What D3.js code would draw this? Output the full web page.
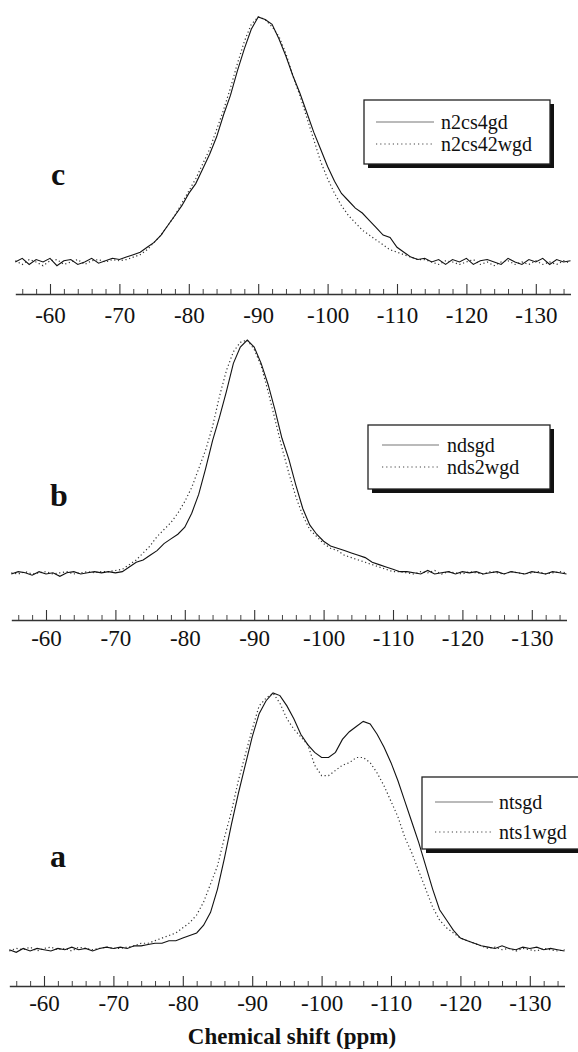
<!DOCTYPE html>
<html><head><meta charset="utf-8">
<script src="https://cdn.jsdelivr.net/npm/d3@7"></script>
<style>
html,body{margin:0;padding:0;background:#fff;}
svg{display:block;}
svg text{font-family:"Liberation Serif","DejaVu Serif",serif;}
</style></head>
<body>
<script>
// ---- data ----
const ppm = [-55,-56,-57,-58,-59,-60,-61,-62,-63,-64,-65,-66,-67,-68,-69,-70,
 -71,-72,-73,-74,-75,-76,-77,-78,-79,-80,
 -81,-82,-83,-84,-85,-86,-87,-88,-89,-90,
 -91,-92,-93,-94,-95,-96,-97,-98,-99,-100,
 -101,-102,-103,-104,-105,-106,-107,-108,-109,-110,
 -111,-112,-113,-114,-115,-116,-117,-118,-119,-120,
 -121,-122,-123,-124,-125,-126,-127,-128,-129,-130,
 -131,-132,-133,-134,-135];

const majorTicks = [-60,-70,-80,-90,-100,-110,-120,-130];
const minorTicks = [-56,-58,-62,-64,-66,-68,-72,-74,-76,-78,-82,-84,-86,-88,-92,-94,-96,-98,
 -102,-104,-106,-108,-112,-114,-116,-118,-122,-124,-126,-128,-132,-134];

const panelLetters = ["c","b","a"];
const legendNamesC = ["n2cs4gd","n2cs42wgd"];
const legendNamesB = ["ndsgd","nds2wgd"];
const legendNamesA = ["ntsgd","nts1wgd"];
const xTitle = "Chemical shift (ppm)";

// relative intensity (0 = baseline, 100 = peak)
const cSolid = [0,1.5,-1,1,0,1.5,-1.5,0.5,1,-1,0,1.5,-0.5,0.5,1.5,1,
 2,3,4,6,8,11,15,19,23,28,
 32,38,44,51,60,68,78,87,95,100,
 99,97,91,84,76,69,61,53,46,39,
 33,28,25,22,20,17,14,11,10,6,
 4,2,1,1.5,0,1,-1,1,0,1.5,
 -1,0.5,1,0,-1,1.5,0,-1,1,0,
 1.5,-1,1,0,0.5];
const cDot = [0.5,-1,1,0,-1.5,0.5,1,-1,0,1,-1,0.5,1,0,1,0.5,
 1,2,3,5,8,11,15,19,24,29,
 34,40,46,54,62,71,81,90,97,100,
 99,96,92,85,76,68,59,50,41,34,
 28,23,19,16,13,11,9,7,5,4,
 3,2,1,1,0,-1,0.5,0,-1,0,
 1,-1,0,-1.5,0,0.5,-1,0,-1,0.5,
 -1,0,-1,0.5,-0.5];
const bSolid = [0,1,0.5,-0.5,1,0,0.5,-1,0.5,1,0,0.5,1,0.5,1,0.5,
 1,3,5,6,8,10,13,15,17,20,
 26,34,45,57,67,78,90,97,100,97,
 90,81,70,58,49,38,28,21,17,14,
 12,11,10,9,8,7,5,4,3,2,
 1,1,0.5,0,1.5,0,0.5,1,0,1,
 0.5,1,0,0.5,1,0,1,0.5,0,1,
 0.5,0,1,0.5,0];
const bDot = [0.5,0,1,0,0.5,1,0,0.5,1,0,0.5,1,0.5,1,1,1.5,
 2,4,6,9,12,16,19,22,26,31,
 37,45,53,63,76,87,95,99,100,96,
 89,78,66,54,43,33,25,19,16,13,
 11,10,8,7,6,5,4,3,2,1,
 1,0.5,0,1,0.5,1.5,0,1,0.5,0,
 1,0.5,0,1,0.5,0,1,0.5,0,0.5,
 1,0,0.5,1,0.5];
const aSolid = [0.5,-0.5,1,0,1,0.5,0,1,0.5,1.5,0.5,1,0,1,1.5,1,
 1.5,1,2,2,2.5,3,3,4,4,5,
 6,7,10,15,24,36,49,61,72,83,
 92,97,100,99,95,90,84,80,77,75,
 75,77,82,85,87,89,88,84,79,73,
 66,58,50,42,33,24,16,12,8,5,
 4,3,2,1.5,1,2,1,0.5,1.5,1,
 1.5,0.5,1,0.5,0];
const aDot = [0,1,0.5,1.5,0,1,1.5,0.5,1,0,1.5,1,0.5,1,1.5,1,
 1,1.5,2,3,3,4,5,6,7,9,
 11,14,19,26,33,44,54,66,76,86,
 95,98,100,96,90,86,83,80,72,68,
 68,70,72,73,75,75,73,69,64,58,
 52,44,38,31,24,17,12,9,7,5,
 4,3,2,1,1.5,0.5,1,0,1,0.5,
 0,1,0.5,0,0.5];

// ---- layout ----
const W = 578, H = 1052;
const svg = d3.select("body").append("svg").attr("width", W).attr("height", H);
const serif = '"Liberation Serif","DejaVu Serif",serif';

const panels = [
  {letter: panelLetters[0], solid: cSolid, dot: cDot, names: legendNamesC,
   x60: 50, axisY: 294, labPad: 13, base: 262, peak: 17, letterX: 51, letterY: 185,
   leg: {x: 364, y: 100, w: 186, h: 64, r1: 122, r2: 144, l0: 376, l1: 434, tx: 441}},
  {letter: panelLetters[1], solid: bSolid, dot: bDot, names: legendNamesB,
   x60: 46, axisY: 620, labPad: 10, base: 574, peak: 340, letterX: 50, letterY: 506,
   leg: {x: 368, y: 425, w: 182, h: 64, r1: 445, r2: 467, l0: 382, l1: 439, tx: 447}},
  {letter: panelLetters[2], solid: aSolid, dot: aDot, names: legendNamesA,
   x60: 44, axisY: 986, labPad: 9, base: 951, peak: 693, letterX: 50, letterY: 867,
   leg: {x: 422, y: 777, w: 175, h: 72, r1: 802, r2: 832, l0: 435, l1: 493, tx: 499}}
];

const pxPerPpm = 6.94;

panels.forEach(p => {
  const g = svg.append("g");
  const x = d3.scaleLinear().domain([-55, -135])
    .range([p.x60 - 5 * pxPerPpm, p.x60 + 75 * pxPerPpm]);
  const y = d3.scaleLinear().domain([0, 100]).range([p.base, p.peak]);

  // axis
  const ax = g.append("g").attr("transform", `translate(0,${p.axisY})`)
    .call(d3.axisBottom(x).tickValues(majorTicks).tickSizeInner(-10).tickSizeOuter(0)
      .tickPadding(p.labPad).tickFormat(d => String(d)));
  ax.attr("font-family", null).attr("font-size", null);
  ax.select(".domain").attr("stroke", "#333").attr("stroke-width", 1.4);
  ax.selectAll(".tick line").attr("stroke", "#333").attr("stroke-width", 1.1);
  ax.selectAll(".tick text").style("font-family", serif).style("font-size", "23px").attr("fill", "#111");

  const axm = g.append("g").attr("transform", `translate(0,${p.axisY})`)
    .call(d3.axisBottom(x).tickValues(minorTicks).tickSizeInner(-5).tickSizeOuter(0).tickFormat(""));
  axm.select(".domain").remove();
  axm.selectAll(".tick line").attr("stroke", "#444").attr("stroke-width", 1);

  // lines
  const line = d3.line().x((d, i) => x(ppm[i])).y(d => y(d));
  g.append("path").datum(p.dot).attr("d", line).attr("fill", "none")
    .attr("stroke", "#333").attr("stroke-width", 1.2).attr("stroke-dasharray", "1.2,2.6");
  g.append("path").datum(p.solid).attr("d", line).attr("fill", "none")
    .attr("stroke", "#111").attr("stroke-width", 1.1);

  // panel letter
  g.append("text").attr("x", p.letterX).attr("y", p.letterY)
    .style("font-family", serif).style("font-weight", "bold").style("font-size", "32px")
    .attr("fill", "#111").text(p.letter);

  // legend
  const L = p.leg;
  g.append("rect").attr("x", L.x + 4).attr("y", L.y + 4).attr("width", L.w).attr("height", L.h)
    .attr("fill", "#111");
  g.append("rect").attr("x", L.x).attr("y", L.y).attr("width", L.w).attr("height", L.h)
    .attr("fill", "#fff").attr("stroke", "#222").attr("stroke-width", 1.3);
  g.append("line").attr("x1", L.l0).attr("x2", L.l1).attr("y1", L.r1).attr("y2", L.r1)
    .attr("stroke", "#777").attr("stroke-width", 1.2);
  g.append("line").attr("x1", L.l0).attr("x2", L.l1).attr("y1", L.r2).attr("y2", L.r2)
    .attr("stroke", "#444").attr("stroke-width", 1.2).attr("stroke-dasharray", "1.2,3");
  g.append("text").attr("x", L.tx).attr("y", L.r1 + 7)
    .style("font-family", serif).style("font-size", "20px").attr("fill", "#111").text(p.names[0]);
  g.append("text").attr("x", L.tx).attr("y", L.r2 + 7)
    .style("font-family", serif).style("font-size", "20px").attr("fill", "#111").text(p.names[1]);
});

svg.append("text").attr("x", 292).attr("y", 1044).attr("text-anchor", "middle")
  .style("font-family", serif).style("font-weight", "bold").style("font-size", "23px")
  .attr("fill", "#111").text(xTitle);
</script>
</body></html>
